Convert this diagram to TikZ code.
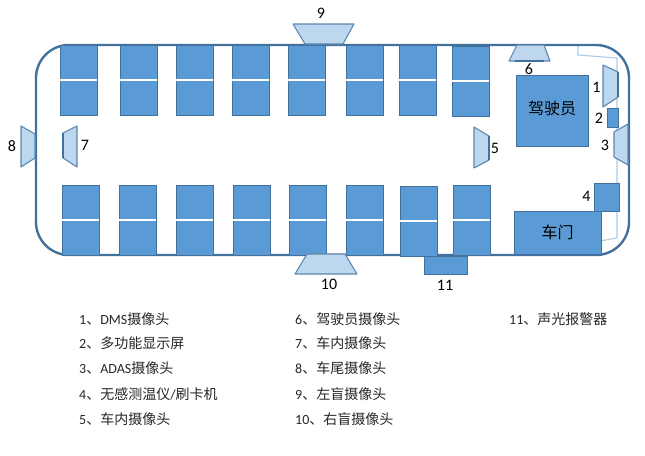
\documentclass[tikz,border=0pt]{standalone}
\usepackage{fontspec}
\usepackage{xcolor}
\setmainfont{Carlito}
\newfontfamily\cjk{Noto Sans CJK SC}
\definecolor{seatblue}{HTML}{5B9BD5}
\definecolor{edgeblue}{HTML}{41719C}
\definecolor{camblue}{HTML}{BDD7EE}
\definecolor{camedge}{HTML}{5C87AE}
\definecolor{paleblue}{HTML}{A9CBE8}
\definecolor{legendgray}{HTML}{262626}
\begin{document}
\begin{tikzpicture}
  [
    x=1pt, y=-1pt,
    % estilos de los asientos, cajas, camaras y textos
    seat/.style={rectangle, draw=edgeblue, fill=seatblue, line width=0.9pt, minimum width=37pt, minimum height=35pt, inner sep=0pt},
    gap/.style={draw=white, line width=2pt},
    box/.style={rectangle, draw=edgeblue, fill=seatblue, line width=0.9pt, inner sep=0pt, font=\cjk\fontsize{16}{16}\selectfont},
    cam/.style={draw=camedge, fill=camblue, line width=1.1pt, line join=round},
    lens/.style={draw=edgeblue, line width=2.2pt},
    num/.style={inner sep=0pt, font=\fontsize{16}{16}\selectfont},
    item/.style={anchor=west, inner sep=0pt, text=legendgray, font=\fontsize{14}{14}\selectfont}
  ]
  \useasboundingbox (0,0) rectangle (645,455);
  % carroceria
  \draw[paleblue, line width=1.1pt] (578,46) -- (578,55) -- (617,58) -- (617,238) -- (600,241);
  \node[rectangle, draw=edgeblue, line width=2.4pt, rounded corners=33pt, minimum width=593pt, minimum height=210pt, inner sep=0pt] (bus) at (332.5,150) {};

  % fila superior
  \node[seat] (a1) at (78.5,62.5) {};
  \node[seat] (a2) at (138.5,62.5) {};
  \node[seat] (a3) at (194.5,62.5) {};
  \node[seat] (a4) at (250.5,62.5) {};
  \node[seat] (a5) at (306.5,62.5) {};
  \node[seat] (a6) at (364.5,63) {};
  \node[seat] (a7) at (417.5,63) {};
  \node[seat] (a8) at (470.5,63.5) {};
  \node[seat] (b1) at (78.5,97.5) {};
  \node[seat] (b2) at (138.5,97.5) {};
  \node[seat] (b3) at (194.5,97.5) {};
  \node[seat] (b4) at (250.5,97.5) {};
  \node[seat] (b5) at (306.5,97.5) {};
  \node[seat] (b6) at (364.5,98) {};
  \node[seat] (b7) at (417.5,98) {};
  \node[seat] (b8) at (470.5,98.5) {};
  \draw[gap] (b1.north west) -- (b1.north east);
  \draw[gap] (b2.north west) -- (b2.north east);
  \draw[gap] (b3.north west) -- (b3.north east);
  \draw[gap] (b4.north west) -- (b4.north east);
  \draw[gap] (b5.north west) -- (b5.north east);
  \draw[gap] (b6.north west) -- (b6.north east);
  \draw[gap] (b7.north west) -- (b7.north east);
  \draw[gap] (b8.north west) -- (b8.north east);

  % fila inferior
  \node[seat] (c1) at (80.5,202.5) {};
  \node[seat] (c2) at (137.5,202.5) {};
  \node[seat] (c3) at (194.5,202.5) {};
  \node[seat] (c4) at (251.5,202.5) {};
  \node[seat] (c5) at (307.5,203) {};
  \node[seat] (c6) at (364.5,203) {};
  \node[seat] (c7) at (418.5,203.5) {};
  \node[seat] (c8) at (471.5,203) {};
  \node[seat] (d1) at (80.5,237.5) {};
  \node[seat] (d2) at (137.5,237.5) {};
  \node[seat] (d3) at (194.5,237.5) {};
  \node[seat] (d4) at (251.5,237.5) {};
  \node[seat] (d5) at (307.5,238) {};
  \node[seat] (d6) at (364.5,238) {};
  \node[seat] (d7) at (418.5,238.5) {};
  \node[seat] (d8) at (471.5,238) {};
  \draw[gap] (d1.north west) -- (d1.north east);
  \draw[gap] (d2.north west) -- (d2.north east);
  \draw[gap] (d3.north west) -- (d3.north east);
  \draw[gap] (d4.north west) -- (d4.north east);
  \draw[gap] (d5.north west) -- (d5.north east);
  \draw[gap] (d6.north west) -- (d6.north east);
  \draw[gap] (d7.north west) -- (d7.north east);
  \draw[gap] (d8.north west) -- (d8.north east);

  % cajas
  \node[box, minimum width=72pt, minimum height=71pt] (driver) at (552,110.5) {\raisebox{5pt}{驾驶员}};
  \node[box, minimum width=87pt, minimum height=43pt] (door) at (557.5,232.5) {\raisebox{1pt}{车门}};
  \node[box, minimum width=11pt, minimum height=19pt] (screen) at (612.5,117.5) {};
  \node[box, minimum width=25pt, minimum height=28pt] (reader) at (606.5,197) {};
  \node[box, minimum width=43pt, minimum height=18pt] (alarm) at (445.5,265) {};

  % camaras
  \draw[cam] (603,65) -- (618,72) -- (618,97) -- (603,107) -- cycle;
  \draw[lens] (618,72) -- (618,97);
  \draw[cam] (628,124) -- (614,132) -- (614,157) -- (628,165) -- cycle;
  \draw[cam] (474,127) -- (489,136) -- (489,160) -- (474,168) -- cycle;
  \draw[lens] (489,136) -- (489,160);
  \draw[cam] (517,45) -- (544,45) -- (550,61) -- (509,61) -- cycle;
  \draw[lens, line width=1.4pt] (515,61) -- (544,61);
  \draw[cam] (77,126) -- (63,133) -- (63,158) -- (77,167) -- cycle;
  \draw[lens] (63,133) -- (63,158);
  \draw[cam] (21,126) -- (35,134) -- (35,158) -- (21,167) -- cycle;
  \draw[cam] (293,24) -- (354,24) -- (343,44) -- (305,44) -- cycle;
  \draw[cam] (307,254) -- (345,254) -- (357,274) -- (295,274) -- cycle;

  % numeros
  \node[num] (n1) at (596.5,87) {1};
  \node[num] (n2) at (599,118) {2};
  \node[num] (n3) at (605,145) {3};
  \node[num] (n4) at (586.5,196) {4};
  \node[num] (n5) at (495,148) {5};
  \node[num] (n6) at (529,69) {6};
  \node[num] (n7) at (85,145) {7};
  \node[num] (n8) at (12,146) {8};
  \node[num] (n9) at (321,13) {9};
  \node[num] (n10) at (329,284) {10};
  \node[num] (n11) at (445,285) {11};

  % leyenda
  \node[item] (l1) at (79,319) {1{\cjk、}DMS{\cjk 摄像头}};
  \node[item] (l2) at (79,343.5) {2{\cjk、多功能显示屏}};
  \node[item] (l3) at (79,368.5) {3{\cjk、}ADAS{\cjk 摄像头}};
  \node[item] (l4) at (79,394) {4{\cjk、无感测温仪}/{\cjk 刷卡机}};
  \node[item] (l5) at (79,419) {5{\cjk、车内摄像头}};
  \node[item] (l6) at (295,319) {6{\cjk、驾驶员摄像头}};
  \node[item] (l7) at (295,343.5) {7{\cjk、车内摄像头}};
  \node[item] (l8) at (295,368.5) {8{\cjk、车尾摄像头}};
  \node[item] (l9) at (295,394) {9{\cjk、左盲摄像头}};
  \node[item] (l10) at (295,419) {10{\cjk、右盲摄像头}};
  \node[item] (l11) at (509,319) {11{\cjk、声光报警器}};
\end{tikzpicture}
\end{document}
